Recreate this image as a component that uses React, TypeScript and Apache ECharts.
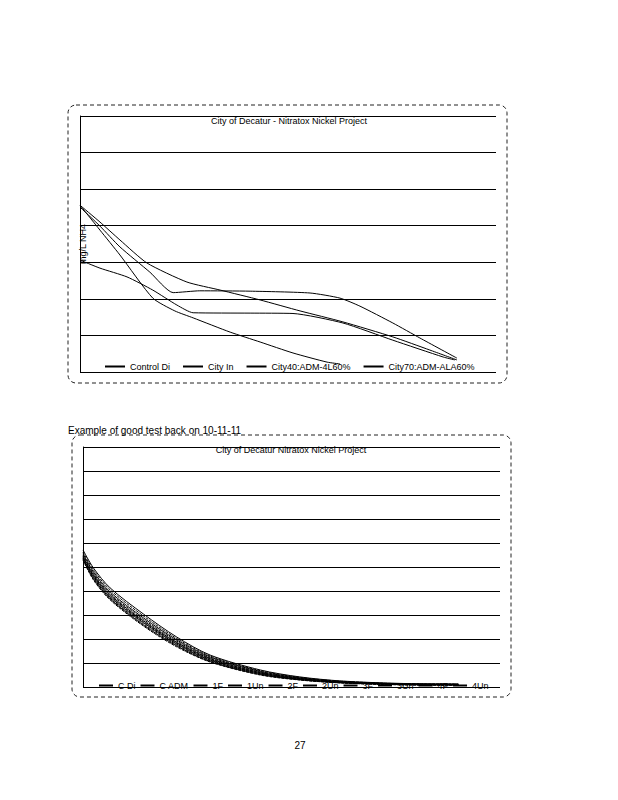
import React, { useEffect, useRef } from "react";
import * as echarts from "echarts";

const TITLE_1 = "City of Decatur - Nitratox Nickel Project";
const TITLE_2 = "City of Decatur Nitratox Nickel Project";
const NOTE = "Example of good test back on 10-11-11";
const PAGE = "27";
const Y_NAME_1 = "mg/L NH4";

// Chart 1 (upper)
const NAMES_1 = ["Control Di", "City In", "City40:ADM-4L60%", "City70:ADM-ALA60%"];
const A_X = [0, 4.8, 9.6, 16.1, 25.7, 33.7, 43.3, 52.9, 63.2, 75.2, 84.1, 90.6];
const A_Y = [4.56, 4.1, 3.61, 2.98, 2.46, 2.24, 1.97, 1.67, 1.37, 0.96, 0.6, 0.33];
const B_X = [0, 4.8, 9.6, 16.8, 22.4, 28.8, 40.9, 55.3, 62.5, 67.3, 75.2, 81.7, 90.6];
const B_Y = [4.51, 3.99, 3.42, 2.73, 2.17, 2.22, 2.21, 2.16, 2.02, 1.8, 1.34, 0.93, 0.38];
const C_X = [0, 4.8, 11.3, 17.5, 23.3, 27.2, 40.9, 51.2, 63.2, 75.2, 87.3, 90.1];
const C_Y = [3.06, 2.84, 2.6, 2.24, 1.83, 1.62, 1.61, 1.6, 1.34, 0.87, 0.41, 0.33];
const D_X = [0, 4.8, 9.6, 17.5, 22.8, 27.2, 36.1, 43.3, 51.2, 59.4, 62.5];
const D_Y = [4.56, 3.88, 3.2, 2.02, 1.67, 1.48, 1.09, 0.82, 0.52, 0.27, 0.22];

// Chart 2 (lower)
const NAMES_2 = ["C Di", "C ADM", "1F", "1Un", "2F", "2Un", "3F", "3Un", "4F", "4Un"];
const X_2 = [0, 2.5, 6.5, 14.5, 22.5, 30.5, 42.5, 52, 62, 76, 90];
const Y_CDI = [5.71, 4.96, 4.13, 3.04, 2.08, 1.33, 0.71, 0.42, 0.25, 0.15, 0.13];
const Y_CADM = [5.62, 4.88, 4.05, 2.96, 2.02, 1.29, 0.68, 0.4, 0.24, 0.14, 0.12];
const Y_1F = [5.55, 4.8, 3.96, 2.88, 1.96, 1.25, 0.65, 0.38, 0.22, 0.13, 0.11];
const Y_1UN = [5.5, 4.74, 3.9, 2.82, 1.91, 1.21, 0.62, 0.36, 0.21, 0.12, 0.1];
const Y_2F = [5.45, 4.68, 3.84, 2.76, 1.86, 1.18, 0.6, 0.35, 0.2, 0.12, 0.1];
const Y_2UN = [5.42, 4.64, 3.8, 2.72, 1.83, 1.15, 0.58, 0.34, 0.19, 0.11, 0.09];
const Y_3F = [5.38, 4.6, 3.75, 2.68, 1.79, 1.12, 0.56, 0.32, 0.19, 0.11, 0.09];
const Y_3UN = [5.35, 4.55, 3.7, 2.63, 1.75, 1.09, 0.54, 0.31, 0.18, 0.1, 0.08];
const Y_4F = [5.32, 4.51, 3.67, 2.58, 1.71, 1.06, 0.52, 0.3, 0.17, 0.1, 0.08];
const Y_4UN = [5.29, 4.46, 3.63, 2.54, 1.67, 1.04, 0.5, 0.29, 0.17, 0.09, 0.08];

const FONT = "Liberation Sans";

function pairs(xs: number[], ys: number[]) {
  return xs.map((x, i) => [x, ys[i]]);
}

export default function App() {
  const ref = useRef<HTMLDivElement>(null);
  useEffect(() => {
    if (!ref.current) return;
    const chart = echarts.init(ref.current, undefined, { renderer: "svg" });
    const line = (name: string, data: number[][], idx: number, smooth: number, dash: any = "solid") => ({
      name,
      type: "line",
      xAxisIndex: idx,
      yAxisIndex: idx,
      data,
      smooth,
      showSymbol: false,
      symbol: "none",
      itemStyle: { color: "#000" },
      lineStyle: { color: "#000", width: 1, type: dash },
    });
    const chart1 = [
      line(NAMES_1[0], pairs(A_X, A_Y), 0, 0.2),
      line(NAMES_1[1], pairs(B_X, B_Y), 0, 0.2),
      line(NAMES_1[2], pairs(C_X, C_Y), 0, 0.2),
      line(NAMES_1[3], pairs(D_X, D_Y), 0, 0.2),
    ];
    const ys2 = [Y_CDI, Y_CADM, Y_1F, Y_1UN, Y_2F, Y_2UN, Y_3F, Y_3UN, Y_4F, Y_4UN];
    const chart2 = NAMES_2.map((n, i) =>
      line(n, pairs(X_2, ys2[i]), 1, 0.3, i % 2 === 0 ? "solid" : [3, 1])
    );
    const hiddenX = (gi: number) => ({
      gridIndex: gi,
      type: "value",
      min: 0,
      max: 100,
      axisLabel: { show: false },
      axisTick: { show: false },
      axisLine: { show: false },
      splitLine: { show: false },
    });
    const yAx = (gi: number, max: number, extra: any = {}) => ({
      gridIndex: gi,
      type: "value",
      min: 0,
      max,
      interval: 1,
      axisLabel: { show: false },
      axisTick: { show: false },
      axisLine: { show: true, lineStyle: { color: "#000", width: 1 } },
      splitLine: { show: true, lineStyle: { color: "#000", width: 1 } },
      ...extra,
    });
    chart.setOption({
      animation: false,
      backgroundColor: "#fff",
      textStyle: { fontFamily: FONT },
      grid: [
        { left: 80, top: 116, width: 416, height: 256 },
        { left: 83, top: 447, width: 417, height: 240 },
      ],
      xAxis: [hiddenX(0), hiddenX(1)],
      yAxis: [
        yAx(0, 7, {
          name: Y_NAME_1,
          nameLocation: "middle",
          nameGap: -7,
          nameTextStyle: { fontSize: 9, color: "#000", fontFamily: FONT },
        }),
        yAx(1, 10),
      ],
      legend: [
        {
          data: NAMES_1,
          left: 105,
          top: 362,
          icon: "rect",
          itemWidth: 20,
          itemHeight: 2,
          itemGap: 13,
          itemTextGap: 3,
          textStyle: { fontSize: 9, color: "#000", fontFamily: FONT },
          padding: 0,
        },
        {
          data: NAMES_2,
          left: 99,
          top: 681,
          icon: "rect",
          itemWidth: 14,
          itemHeight: 2,
          itemGap: 5,
          itemTextGap: 3,
          textStyle: { fontSize: 9, color: "#000", fontFamily: FONT },
          padding: 0,
        },
      ],
      series: [...chart1, ...chart2],
      graphic: [
        {
          type: "rect",
          shape: { x: 68, y: 105, width: 439, height: 278, r: 8 },
          style: { fill: "none", stroke: "#222", lineWidth: 1, lineDash: [4, 3] },
          silent: true,
        },
        {
          type: "rect",
          shape: { x: 72, y: 435, width: 439, height: 262, r: 8 },
          style: { fill: "none", stroke: "#222", lineWidth: 1, lineDash: [4, 3] },
          silent: true,
        },
        {
          type: "text",
          x: 289,
          y: 116,
          style: { text: TITLE_1, fontSize: 9, fill: "#000", fontFamily: FONT, textAlign: "center", textVerticalAlign: "top" },
        },
        {
          type: "text",
          x: 291,
          y: 445,
          style: { text: TITLE_2, fontSize: 9, fill: "#000", fontFamily: FONT, textAlign: "center", textVerticalAlign: "top" },
        },
        {
          type: "text",
          x: 68,
          y: 425,
          style: { text: NOTE, fontSize: 10, fill: "#000", fontFamily: FONT, textVerticalAlign: "top" },
        },
        {
          type: "text",
          x: 300,
          y: 740,
          style: { text: PAGE, fontSize: 10, fill: "#000", fontFamily: FONT, textAlign: "center", textVerticalAlign: "top" },
        },
      ],
    });
    return () => chart.dispose();
  }, []);
  return (
    <div
      ref={ref}
      style={{ position: "fixed", left: 0, top: 0, width: 618, height: 800, background: "#fff" }}
    />
  );
}
